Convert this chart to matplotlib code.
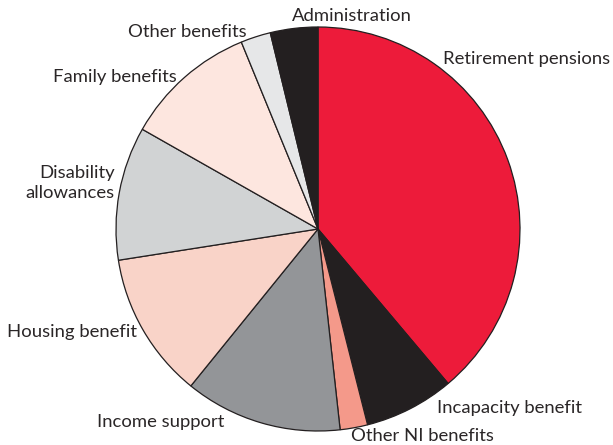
import matplotlib
matplotlib.use('Agg')
import matplotlib.pyplot as plt

# Share of spending, percent, clockwise from 12 o'clock
categories = ['Retirement pensions', 'Incapacity benefit', 'Other NI benefits',
              'Income support', 'Housing benefit', 'Disability allowances',
              'Family benefits', 'Other benefits', 'Administration']
shares = [38.9, 7.2, 2.2, 12.6, 11.7, 10.7, 10.6, 2.4, 3.8]
colors = ['#ED1B3A', '#231F20', '#F4998A', '#939598', '#F9D3C8',
          '#D1D3D4', '#FDE6DF', '#E6E7E8', '#231F20']

# label text, anchor (pixels from top-left), horizontal alignment
labels = [
    ('Retirement pensions', 443, 59, 'left'),
    ('Incapacity benefit', 437, 408, 'left'),
    ('Other NI benefits', 351, 436, 'left'),
    ('Income support', 97, 422, 'left'),
    ('Housing benefit', 7, 332, 'left'),
    ('Disability\nallowances', 115, 183, 'right'),
    ('Family benefits', 53, 77, 'left'),
    ('Other benefits', 128, 32, 'left'),
    ('Administration', 292, 16, 'left'),
]

W, H = 613, 445
fig = plt.figure(figsize=(W / 100, H / 100), dpi=100)
ax = fig.add_axes([0, 0, 1, 1])

ax.pie(shares, colors=colors, startangle=90, counterclock=False,
       center=(318, H - 229), radius=202,
       wedgeprops={'edgecolor': '#231F20', 'linewidth': 0.9})

for text, x, y, ha in labels:
    ax.text(x, H - y, text, ha=ha, va='center', fontsize=13.3,
            family='Lato', color='#2A2627', linespacing=1.25)

ax.set_xlim(0, W)
ax.set_ylim(0, H)
ax.set_aspect('equal')
ax.axis('off')

fig.savefig('out.png', dpi=100)
